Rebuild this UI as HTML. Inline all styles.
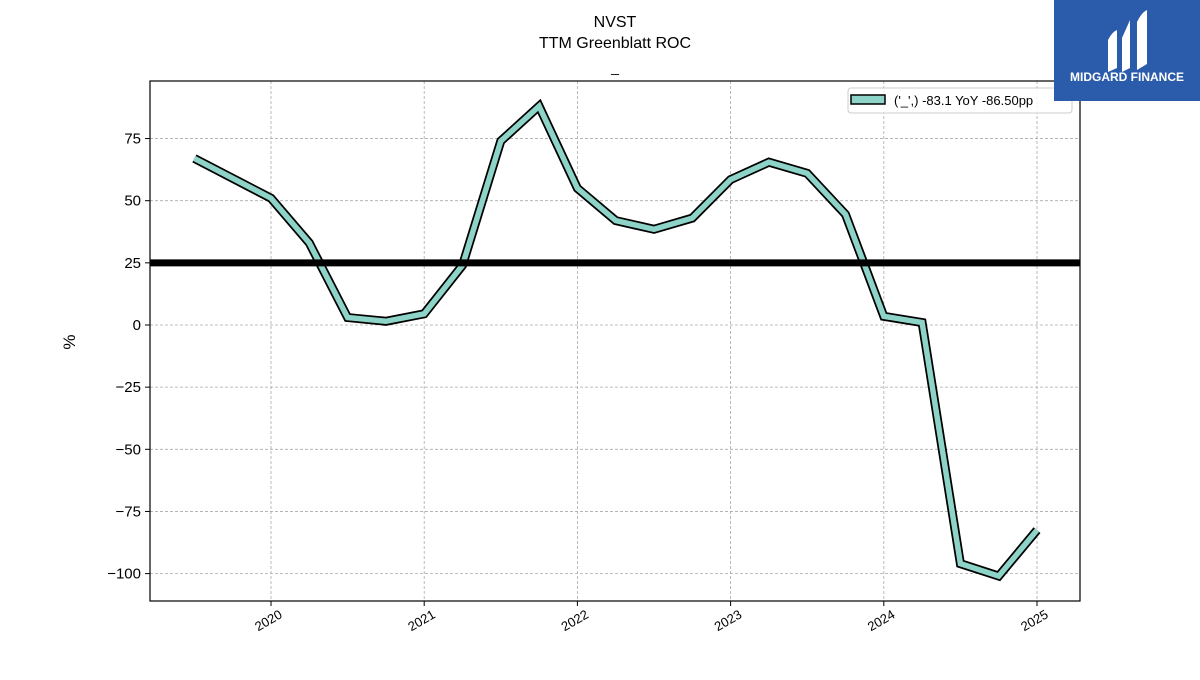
<!DOCTYPE html>
<html><head><meta charset="utf-8"><style>
body{margin:0;background:#fff;width:1200px;height:675px;overflow:hidden;font-family:"Liberation Sans","DejaVu Sans",sans-serif;}
</style></head><body>
<svg id="c" width="1200" height="675" xmlns="http://www.w3.org/2000/svg">
<text x="615" y="27" text-anchor="middle" font-size="16">NVST</text>
<text x="615" y="48" text-anchor="middle" font-size="16">TTM Greenblatt ROC</text>
<text x="615" y="72" text-anchor="middle" font-size="14">_</text>
<g id="grid"></g>
<g id="marks"></g>
<rect x="150" y="81" width="930" height="520" fill="none" stroke="#000" stroke-width="1.2"/>
<text transform="translate(75,342) rotate(-90)" text-anchor="middle" font-size="17">%</text>
<g>
<rect x="848" y="88" width="224" height="25" rx="3" fill="#fff" fill-opacity="0.85" stroke="#ccc"/>
<rect x="851" y="95" width="34" height="9" fill="#8dd3c7" stroke="#000" stroke-width="1.5"/>
<text x="894" y="105" font-size="13">('_',) -83.1 YoY -86.50pp</text>
</g>
<g>
<rect x="1054" y="0" width="146" height="101" fill="#2b5cab"/>
<path d="M1108 40 Q1112 32 1117 30 L1117 68 L1108 72 Z M1122 38 L1130 20 L1130 68 L1122 72 Z M1137 22 Q1142 12 1147 10 L1147 64 L1137 70 Z" fill="#fff"/>
<text x="1127" y="81" text-anchor="middle" font-size="12" font-weight="bold" fill="#fff">MIDGARD FINANCE</text>
</g>
</svg>
<script>
const dates=[2019.5,2020.0,2020.25,2020.5,2020.75,2021.0,2021.25,2021.5,2021.75,2022.0,2022.25,2022.5,2022.75,2023.0,2023.25,2023.5,2023.75,2024.0,2024.25,2024.5,2024.75,2025.0];
const values=[67,51,33,3,1.5,4.5,24,74,88,55,42,38.5,43,58.5,65.5,61,44.5,3.5,1,-96,-101,-82.5];
const yTicks=[75,50,25,0,-25,-50,-75,-100];
const yTickLabels=["75","50","25","0","\u221225","\u221250","\u221275","\u2212100"];
const xTicks=[2020,2021,2022,2023,2024,2025];
const xTickLabels=["2020","2021","2022","2023","2024","2025"];
const refLevel=[25];
const NS="http://www.w3.org/2000/svg";
function sx(t){return 271+(t-2020)*153.2;}
function sy(v){return 325-v*2.486;}
function mk(tag,attrs,parent){const e=document.createElementNS(NS,tag);for(const k in attrs)e.setAttribute(k,attrs[k]);parent.appendChild(e);return e;}
const grid=document.getElementById('grid'),marks=document.getElementById('marks');
yTicks.forEach((v,i)=>{
 const l=mk('line',{x1:150,x2:1080,y1:sy(v),y2:sy(v),stroke:'#aaa','stroke-dasharray':'3,2','stroke-width':0.8},grid);
 
 
 const tk=mk('line',{x1:145,x2:150,y1:sy(v),y2:sy(v),stroke:'#000'},grid);
 
 
 const t=mk('text',{x:141,y:sy(v)+5,'text-anchor':'end','font-size':15},grid);
 t.textContent=yTickLabels[i];
 
 
});
xTicks.forEach((v,i)=>{
 const l=mk('line',{x1:sx(v),x2:sx(v),y1:81,y2:601,stroke:'#aaa','stroke-dasharray':'3,2','stroke-width':0.8},grid);
 
 
 const tk=mk('line',{x1:sx(v),x2:sx(v),y1:601,y2:606,stroke:'#000'},grid);
 
 
 const t=mk('text',{x:sx(v),y:624,'text-anchor':'end','font-size':13,transform:`rotate(-30 ${sx(v)} 624)`},grid);
 t.setAttribute('x',sx(v)+14);
 t.textContent=xTickLabels[i];
 
 
});
const pts=dates.map((d,i)=>sx(d)+','+sy(values[i])).join(' ');
const o=mk('polyline',{points:pts,fill:'none',stroke:'#000','stroke-width':9},marks);


const s=mk('polyline',{points:pts,fill:'none',stroke:'#8dd3c7','stroke-width':5.5},marks);


const r=mk('line',{x1:150,x2:1080,y1:sy(refLevel[0]),y2:sy(refLevel[0]),stroke:'#000','stroke-width':7},marks);


</script>
</body></html>
